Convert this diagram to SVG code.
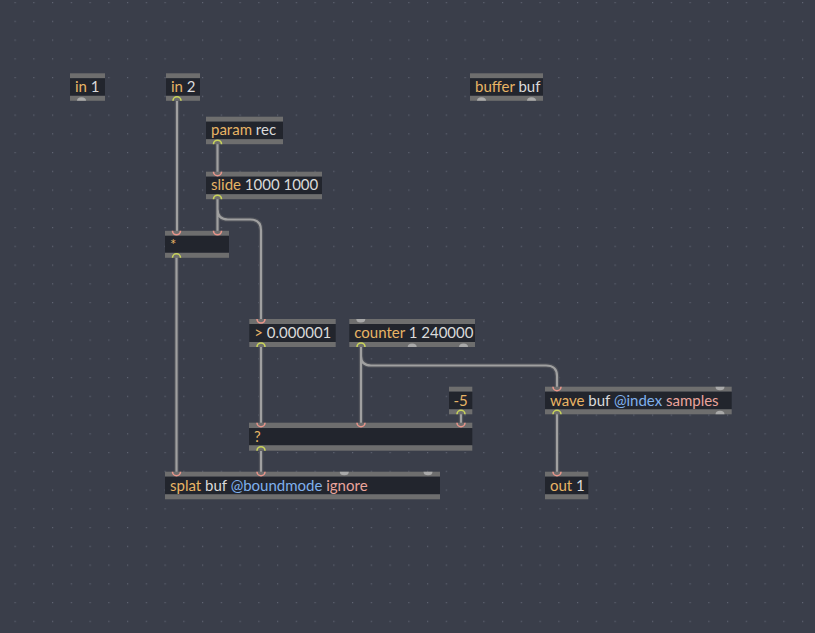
<svg xmlns="http://www.w3.org/2000/svg" width="815" height="633" viewBox="0 0 815 633">
<style>
.bar{fill:#6e6e6e}
.body{fill:#22252d}
.t{font-family:Lato,"Liberation Sans",sans-serif;font-size:15px;fill:#dadada}
.op{fill:#e8b465}
.at{fill:#7fb0ec}
.av{fill:#eaa49c}
.cab-o{fill:none;stroke:#4c4f57;stroke-width:4.5}
.cab-i{fill:none;stroke:#a0a0a0;stroke-width:2.2}
.inl{fill:none;stroke:#e8958a;stroke-width:1.6}
.outl{fill:none;stroke:#c9d45a;stroke-width:1.6}
.gp{fill:#a9a9a9}
</style>
<defs>
<pattern id="grid" patternUnits="userSpaceOnUse" x="14.5" y="2" width="18.75" height="18.75">
<rect x="0" y="0" width="1.2" height="1.2" fill="#5e6371"/>
</pattern>
<path id="cables" d="M177,101 V231 M217.5,144 V172 M217.5,199 V231 M217.5,199 V209 Q217.5,219.5 228,219.5 H250 Q261,219.5 261,230.5 V319 M176.5,257 V472 M261,347 V423 M361,347 V423 M361,347 V356 Q361,365.5 371,365.5 H546 Q557,365.5 557,376 V387 M461,414 V423 M261,451 V472 M557,414 V472"/>
</defs>
<rect width="815" height="633" fill="#3a3e4a"/>
<rect width="815" height="633" fill="url(#grid)"/>

<g id="connectors">
<use href="#cables" class="cab-o"/>
<use href="#cables" class="cab-i"/>
</g>

<g id="in1">
<rect class="bar" x="70" y="73.3" width="35" height="5"/>
<rect class="body" x="70" y="78.3" width="35" height="17.5"/>
<rect class="bar" x="70" y="95.8" width="35" height="5"/>
<text class="t" x="75" y="92"><tspan class="op">in</tspan> 1</text>
<path class="gp" d="M77,100.8 A4.5,3.5 0 0 1 86,100.8 Z"/>
</g>

<g id="in2">
<rect class="bar" x="166" y="73.3" width="34" height="5"/>
<rect class="body" x="166" y="78.3" width="34" height="17.5"/>
<rect class="bar" x="166" y="95.8" width="34" height="5"/>
<text class="t" x="171" y="92"><tspan class="op">in</tspan> 2</text>
<path class="outl" d="M173,100.8 A4,4 0 0 1 181,100.8"/>
</g>

<g id="buffer">
<rect class="bar" x="470" y="73.3" width="73" height="5"/>
<rect class="body" x="470" y="78.3" width="73" height="17.5"/>
<rect class="bar" x="470" y="95.8" width="73" height="5"/>
<text class="t" x="475" y="92"><tspan class="op">buffer</tspan> buf</text>
<path class="gp" d="M477,100.8 A4.5,3.5 0 0 1 486,100.8 Z"/>
<path class="gp" d="M527,100.8 A4.5,3.5 0 0 1 536,100.8 Z"/>
</g>

<g id="param">
<rect class="bar" x="206" y="116.7" width="77" height="5"/>
<rect class="body" x="206" y="121.7" width="77" height="17.5"/>
<rect class="bar" x="206" y="139.2" width="77" height="5"/>
<text class="t" x="211" y="135.4"><tspan class="op">param</tspan> rec</text>
<path class="outl" d="M213.5,144.2 A4,4 0 0 1 221.5,144.2"/>
</g>

<g id="slide">
<rect class="bar" x="206" y="171.7" width="116" height="5"/>
<rect class="body" x="206" y="176.7" width="116" height="17.5"/>
<rect class="bar" x="206" y="194.2" width="116" height="5"/>
<text class="t" x="211" y="190.4"><tspan class="op">slide</tspan> 1000 1000</text>
<path class="inl" d="M213.5,171.7 A4,4 0 0 0 221.5,171.7"/>
<path class="outl" d="M213.5,199.2 A4,4 0 0 1 221.5,199.2"/>
</g>

<g id="mul">
<rect class="bar" x="165" y="230.8" width="64" height="5"/>
<rect class="body" x="165" y="235.8" width="64" height="17"/>
<rect class="bar" x="165" y="252.8" width="64" height="5"/>
<text class="t" x="170" y="249.5"><tspan class="op">*</tspan></text>
<path class="inl" d="M172.5,230.8 A4,4 0 0 0 180.5,230.8"/>
<path class="inl" d="M213.5,230.8 A4,4 0 0 0 221.5,230.8"/>
<path class="outl" d="M172.5,257.8 A4,4 0 0 1 180.5,257.8"/>
</g>

<g id="gt">
<rect class="bar" x="249.3" y="319" width="86.4" height="5"/>
<rect class="body" x="249.3" y="324" width="86.4" height="18"/>
<rect class="bar" x="249.3" y="342" width="86.4" height="5"/>
<text class="t" x="254.3" y="338"><tspan class="op">&gt;</tspan> 0.000001</text>
<path class="inl" d="M257,319 A4,4 0 0 0 265,319"/>
<path class="outl" d="M257,347 A4,4 0 0 1 265,347"/>
</g>

<g id="counter">
<rect class="bar" x="349.3" y="319" width="125.7" height="5"/>
<rect class="body" x="349.3" y="324" width="125.7" height="18"/>
<rect class="bar" x="349.3" y="342" width="125.7" height="5"/>
<text class="t" x="354.3" y="338"><tspan class="op">counter</tspan> 1 240000</text>
<path class="gp" d="M356.3,319 A4.5,3.5 0 0 0 365.3,319 Z"/>
<path class="outl" d="M357,347 A4,4 0 0 1 365,347"/>
<path class="gp" d="M407.7,347 A4.5,3.5 0 0 1 416.7,347 Z"/>
<path class="gp" d="M459,347 A4.5,3.5 0 0 1 468,347 Z"/>
</g>

<g id="neg5">
<rect class="bar" x="449" y="386.7" width="23.3" height="5"/>
<rect class="body" x="449" y="391.7" width="23.3" height="17.6"/>
<rect class="bar" x="449" y="409.3" width="23.3" height="5"/>
<text class="t" x="453.5" y="405.5"><tspan class="op">-5</tspan></text>
<path class="outl" d="M457,414.3 A4,4 0 0 1 465,414.3"/>
</g>

<g id="switch">
<rect class="bar" x="249" y="422.7" width="223.3" height="5.4"/>
<rect class="body" x="249" y="428.1" width="223.3" height="17.2"/>
<rect class="bar" x="249" y="445.3" width="223.3" height="5.4"/>
<text class="t" x="254" y="441.8"><tspan class="op">?</tspan></text>
<path class="inl" d="M257,422.7 A4,4 0 0 0 265,422.7"/>
<path class="inl" d="M357,422.7 A4,4 0 0 0 365,422.7"/>
<path class="inl" d="M457,422.7 A4,4 0 0 0 465,422.7"/>
<path class="outl" d="M257,450.7 A4,4 0 0 1 265,450.7"/>
</g>

<g id="splat">
<rect class="bar" x="165" y="471.7" width="275" height="5"/>
<rect class="body" x="165" y="476.7" width="275" height="17.6"/>
<rect class="bar" x="165" y="494.3" width="275" height="5"/>
<text class="t" x="170" y="490.5"><tspan class="op">splat</tspan> buf <tspan class="at">@boundmode</tspan> <tspan class="av">ignore</tspan></text>
<path class="inl" d="M172.5,471.7 A4,4 0 0 0 180.5,471.7"/>
<path class="inl" d="M257,471.7 A4,4 0 0 0 265,471.7"/>
<path class="gp" d="M339.8,471.7 A4.5,3.5 0 0 0 348.8,471.7 Z"/>
<path class="gp" d="M423.5,471.7 A4.5,3.5 0 0 0 432.5,471.7 Z"/>
</g>

<g id="wave">
<rect class="bar" x="545" y="386.7" width="186.7" height="5"/>
<rect class="body" x="545" y="391.7" width="186.7" height="17.6"/>
<rect class="bar" x="545" y="409.3" width="186.7" height="5"/>
<text class="t" x="550" y="405.5"><tspan class="op">wave</tspan> buf <tspan class="at">@index</tspan> <tspan class="av">samples</tspan></text>
<path class="inl" d="M553,386.7 A4,4 0 0 0 561,386.7"/>
<path class="gp" d="M715.5,386.7 A4.5,3.5 0 0 0 724.5,386.7 Z"/>
<path class="outl" d="M553,414.3 A4,4 0 0 1 561,414.3"/>
<path class="gp" d="M715.5,414.3 A4.5,3.5 0 0 1 724.5,414.3 Z"/>
</g>

<g id="out1">
<rect class="bar" x="545" y="471.7" width="43.3" height="5"/>
<rect class="body" x="545" y="476.7" width="43.3" height="17.6"/>
<rect class="bar" x="545" y="494.3" width="43.3" height="5"/>
<text class="t" x="550" y="490.5"><tspan class="op">out</tspan> 1</text>
<path class="inl" d="M553,471.7 A4,4 0 0 0 561,471.7"/>
</g>
</svg>
